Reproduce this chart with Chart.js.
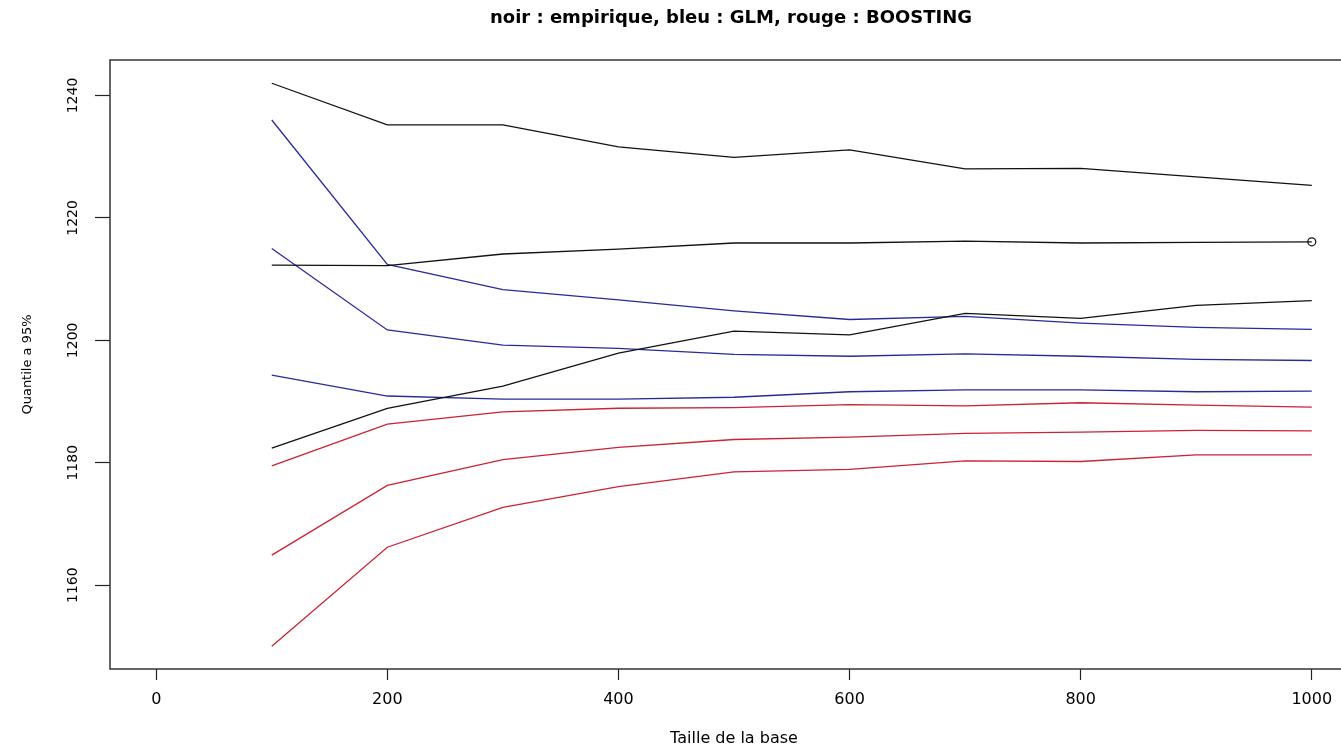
<!DOCTYPE html>
<html>
<head>
<meta charset="utf-8">
<script src="https://cdn.jsdelivr.net/npm/chart.js@4"></script>
<style>
  body { margin: 0; background: #fff; }
  #wrap { width: 1341px; height: 748px; overflow: hidden; }
</style>
</head>
<body>
<div id="wrap"><canvas id="chart" width="1462" height="748"></canvas></div>
<script>
const sizes = [100, 200, 300, 400, 500, 600, 700, 800, 900, 1000]

// noir : empirique
const empHigh = [1242.0, 1235.2, 1235.2, 1231.6, 1229.9, 1231.1, 1228.0, 1228.1, 1226.7, 1225.3]
const empMid = [1212.3, 1212.2, 1214.1, 1214.9, 1215.9, 1215.9, 1216.2, 1215.9, 1216.0, 1216.1]
const empLow = [1182.4, 1188.9, 1192.5, 1197.9, 1201.5, 1200.9, 1204.4, 1203.6, 1205.7, 1206.5]

// bleu : GLM
const glmHigh = [1236.0, 1212.4, 1208.3, 1206.6, 1204.8, 1203.4, 1203.9, 1202.8, 1202.1, 1201.8]
const glmMid = [1215.0, 1201.7, 1199.2, 1198.7, 1197.7, 1197.4, 1197.8, 1197.4, 1196.9, 1196.7]
const glmLow = [1194.3, 1190.9, 1190.4, 1190.4, 1190.7, 1191.6, 1191.9, 1191.9, 1191.6, 1191.7]

// rouge : BOOSTING
const boostHigh = [1179.5, 1186.3, 1188.3, 1188.9, 1189.0, 1189.5, 1189.3, 1189.8, 1189.4, 1189.1]
const boostMid = [1164.9, 1176.3, 1180.5, 1182.5, 1183.8, 1184.2, 1184.8, 1185.0, 1185.3, 1185.2]
const boostLow = [1150.0, 1166.2, 1172.7, 1176.1, 1178.5, 1178.9, 1180.3, 1180.2, 1181.3, 1181.3]

// single open point at the end of the middle black curve
const markerX = [1000]
const markerY = [1216.1]

const BLACK = '#111111'
const BLUE = '#2a2a96'
const RED = '#cc2233'

const toPoints = (xs, ys) => xs.map((x, i) => ({ x: x, y: ys[i] }))

const line = (values, color) => ({
  data: toPoints(sizes, values),
  borderColor: color,
  borderWidth: 1.3,
  pointRadius: 0,
  tension: 0,
  fill: false,
})

// R style box around the plotting region
const boxPlugin = {
  id: 'box',
  afterDraw(chart) {
    const { ctx, chartArea } = chart
    ctx.save()
    ctx.strokeStyle = '#333'
    ctx.lineWidth = 1.5
    ctx.strokeRect(chartArea.left, chartArea.top, chartArea.right - chartArea.left, chartArea.bottom - chartArea.top)
    ctx.restore()
  },
}

const font = 'DejaVu Sans'
const plain = (v) => String(v)

new Chart(document.getElementById('chart'), {
  type: 'line',
  data: {
    datasets: [
      line(empHigh, BLACK),
      line(empMid, BLACK),
      line(empLow, BLACK),
      line(glmHigh, BLUE),
      line(glmMid, BLUE),
      line(glmLow, BLUE),
      line(boostHigh, RED),
      line(boostMid, RED),
      line(boostLow, RED),
      {
        data: toPoints(markerX, markerY),
        showLine: false,
        pointRadius: 4,
        pointBorderWidth: 1.2,
        pointBorderColor: BLACK,
        pointBackgroundColor: 'rgba(0,0,0,0)',
      },
    ],
  },
  options: {
    responsive: false,
    animation: false,
    layout: { padding: 0 },
    plugins: {
      legend: { display: false },
      tooltip: { enabled: false },
      title: {
        display: true,
        text: 'noir : empirique, bleu : GLM, rouge : BOOSTING',
        color: '#000',
        font: { family: font, size: 18, weight: 'bold' },
        padding: { top: 8, bottom: 30.4 },
      },
    },
    scales: {
      x: {
        type: 'linear',
        min: -40,
        max: 1040,
        afterFit(scale) { scale.height = 79 },
        border: { display: false },
        grid: { drawOnChartArea: false, tickLength: 11, tickColor: '#222', tickWidth: 1.2 },
        ticks: {
          stepSize: 200,
          includeBounds: false,
          padding: 10,
          color: '#000',
          font: { family: font, size: 16 },
          maxRotation: 0,
          callback: plain,
        },
        title: {
          display: true,
          text: 'Taille de la base',
          color: '#000',
          font: { family: font, size: 16 },
          padding: { top: 0, bottom: 0 },
        },
      },
      y: {
        type: 'linear',
        min: 1146.3,
        max: 1245.8,
        afterFit(scale) { scale.width = 110 },
        border: { display: false },
        grid: { drawOnChartArea: false, tickLength: 15, tickColor: '#222', tickWidth: 1.2 },
        ticks: {
          stepSize: 20,
          includeBounds: false,
          minRotation: 90,
          maxRotation: 90,
          crossAlign: 'center',
          padding: 4,
          color: '#000',
          font: { family: font, size: 14 },
          callback: plain,
        },
        title: {
          display: true,
          text: 'Quantile a 95%',
          color: '#000',
          font: { family: font, size: 13 },
          padding: { top: 20, bottom: 0 },
        },
      },
      // empty right margin, so the title stays centred on the whole figure
      yRight: {
        type: 'linear',
        position: 'right',
        display: true,
        afterFit(scale) { scale.width = 104 },
        border: { display: false },
        grid: { display: false },
        ticks: { display: false },
      },
    },
  },
  plugins: [boxPlugin],
})
</script>
</body>
</html>
